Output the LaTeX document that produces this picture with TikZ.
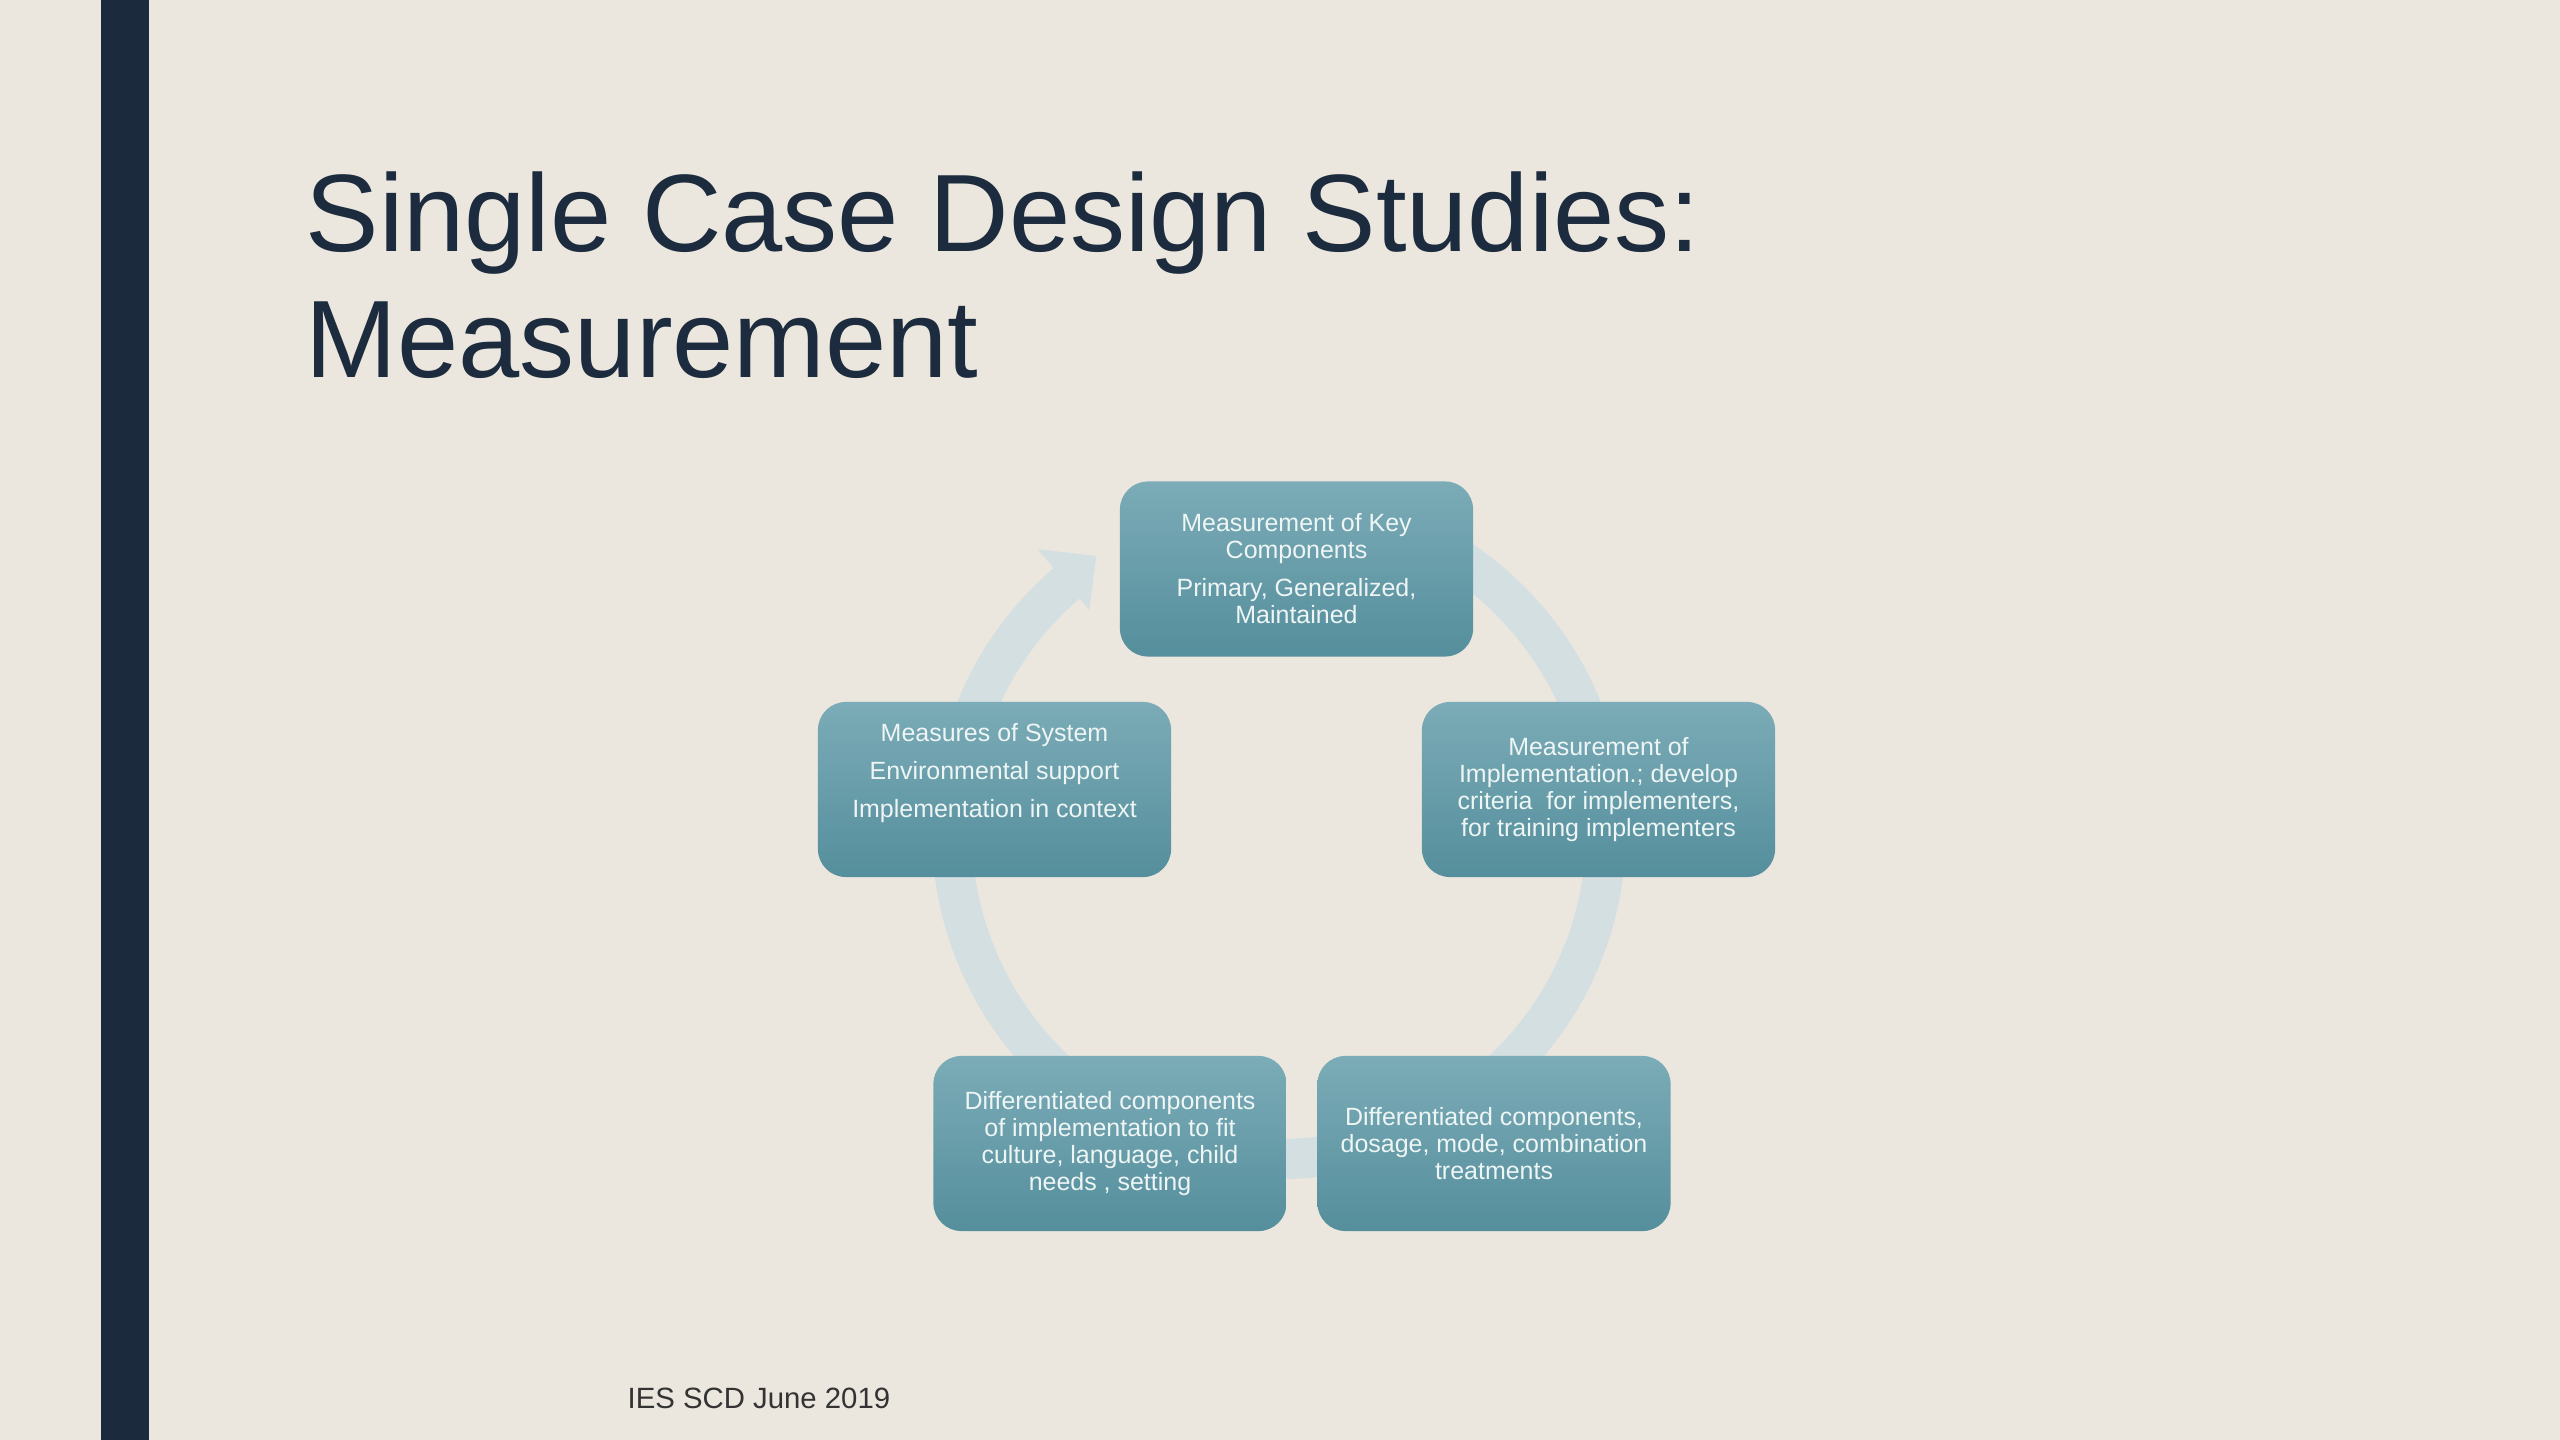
\documentclass[tikz,border=0pt]{standalone}
\usepackage{fontspec}
\setmainfont{Liberation Sans}
\definecolor{bgcol}{HTML}{ECE7DE}
\definecolor{barcol}{HTML}{1B2A3C}
\definecolor{titlecol}{HTML}{1C2B3D}
\definecolor{boxtop}{HTML}{7BACB7}
\definecolor{boxbot}{HTML}{558E9C}
\definecolor{boxtxt}{HTML}{EEF5F5}
\definecolor{arccol}{HTML}{D4DFE2}
\definecolor{footcol}{HTML}{333333}
\tikzset{
  cyclebox/.style={rounded corners=0.28cm, minimum width=3.53cm, minimum height=1.75cm,
    top color=boxtop, bottom color=boxbot, text=boxtxt, align=center, inner sep=0pt,
    font=\fontsize{7.1pt}{7.7pt}\selectfont},
  arcline/.style={draw=arccol, line width=0.4cm},
  titletext/.style={text=titlecol, anchor=base west, inner sep=0pt, align=left,
    font=\fontsize{31.3pt}{36.1pt}\selectfont},
  foottext/.style={text=footcol, anchor=base west, inner sep=0pt,
    font=\fontsize{8.34pt}{10pt}\selectfont}
}
\begin{document}
\begin{tikzpicture}[x=0.01cm,y=-0.01cm]
\fill[bgcol] (0,0) rectangle (2560,1440);
\useasboundingbox (0,0) rectangle (2560,1440);
\fill[barcol] (101,0) rectangle (149,1440);

\node[titletext] (title1) at (305,252) {Single Case Design Studies:};
\node[titletext] (title2) at (305,378) {Measurement};

% circular arrow
\coordinate (C) at (1279,832);
\draw[arcline] (C) ++(-85:327) arc[start angle=-85, end angle=230, radius=327];
\fill[arccol] (C) +(229.5:372) -- +(229.5:292) -- +(236.5:331) -- cycle;

\node[cyclebox] (top) at (1296.5,569) {Measurement of Key\\Components\\[3.1pt]Primary, Generalized,\\Maintained};
\node[cyclebox] (right) at (1598.5,789.5) {Measurement of\\Implementation.; develop\\criteria\ \ for implementers,\\for training implementers};
\node[cyclebox] (bright) at (1494,1143.5) {Differentiated components,\\dosage, mode, combination\\treatments};
\node[cyclebox] (bleft) at (1110,1143.5) {Differentiated components\\of implementation to fit\\culture, language, child\\needs , setting};
\node[cyclebox] (left) at (994.5,789.5) {Measures of System\\[3.1pt]Environmental support\\[3.1pt]Implementation in context\\[3.1pt]~};

\node[foottext] (foot) at (627,1408) {IES SCD June 2019};
\end{tikzpicture}
\end{document}
